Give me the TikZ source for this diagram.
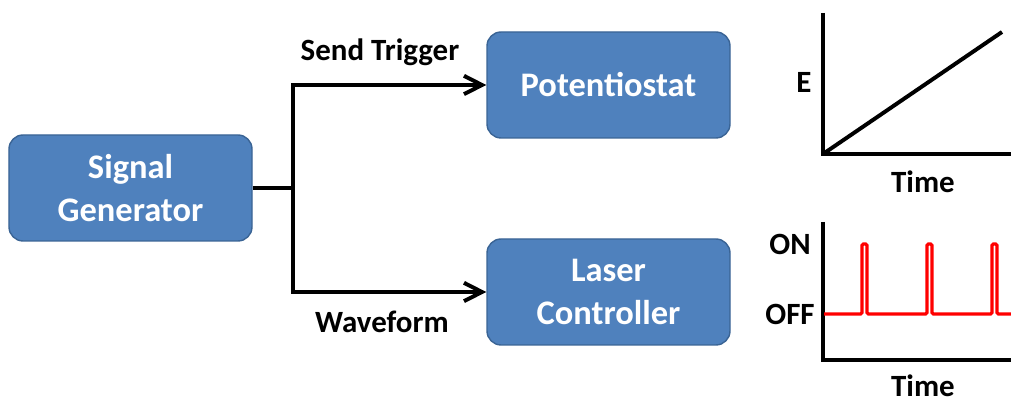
\documentclass[tikz,border=0pt]{standalone}
\usepackage{fontspec}
\setmainfont{Carlito}
\usetikzlibrary{arrows.meta}

\definecolor{boxblue}{HTML}{4F81BD}
\definecolor{boxedge}{HTML}{3A6495}

\tikzset{
  block/.style={draw=boxedge, fill=boxblue, line width=1pt, rounded corners=10pt,
    minimum width=6.075cm, minimum height=2.65cm, text=white, align=center,
    font=\fontsize{24.5}{30.5}\selectfont\bfseries},
  lbl/.style={font=\fontsize{22}{24}\selectfont\bfseries},
  wire/.style={line width=2.8pt},
  sig/.style={-{Straight Barb[length=4.5mm,width=4.6mm,line width=2.8pt]}, line width=2.8pt}
}

\begin{document}
\begin{tikzpicture}
\useasboundingbox (0,0) rectangle (25.275,10);

\node[block] (gen) at (3.2625,5.3) {Signal\\Generator};
\node[block] (pot) at (15.2125,7.875) {Potentiostat};
\node[block] (laser) at (15.2125,2.7) {Laser\\Controller};

% branch from the generator
\coordinate (split) at (7.325,5.3);
\draw[wire] (gen.east) -- (split);
\draw[sig] (split) |- (pot.west);
\draw[sig] (split) |- (laser.west);

\node[lbl] (trig) at (9.5,8.7) {Send Trigger};
\node[lbl] (wave) at (9.55,1.95) {Waveform};

% potential ramp
\coordinate (o1) at (20.575,6.15);
\draw[wire, line join=miter] (20.575,9.675) -- (o1) -- (25.275,6.15);
\draw[wire] (o1) -- (25.05,9.2);
\node[lbl] (e) at (20.1,7.95) {E};
\node[lbl] (t1) at (23.075,5.45) {Time};

% laser pulses
\coordinate (o2) at (20.575,1.0);
\draw[wire, line join=miter] (20.575,4.45) -- (o2) -- (25.275,1.0);
\draw[line width=2.2pt, red, rounded corners=1pt]
  (20.6,2.15) -- (21.55,2.15) -- (21.55,3.9) -- (21.675,3.9) -- (21.675,2.15)
  -- (23.175,2.15) -- (23.175,3.9) -- (23.3,3.9) -- (23.3,2.15)
  -- (24.8,2.15) -- (24.8,3.9) -- (24.925,3.9) -- (24.925,2.15) -- (25.275,2.15);
\node[lbl] (on) at (19.75,3.9) {ON};
\node[lbl] (off) at (19.75,2.15) {OFF};
\node[lbl, inner sep=0pt, anchor=base] (t2) at (23.075,0.08) {Time};

\end{tikzpicture}
\end{document}
